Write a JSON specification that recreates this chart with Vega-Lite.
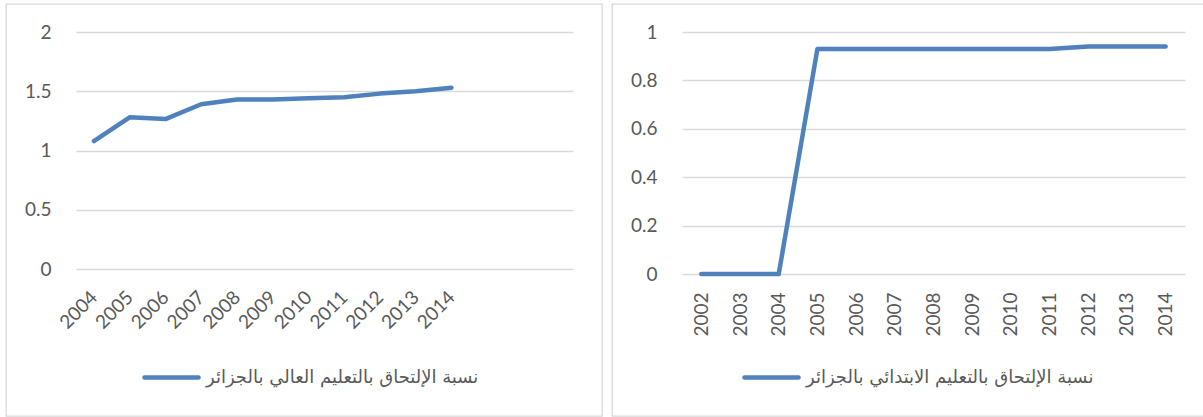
{
  "$schema": "https://vega.github.io/schema/vega-lite/v6.json",
  "background": "white",
  "padding": {"left": 5, "top": 3, "right": 0, "bottom": 0},
  "spacing": 8,
  "resolve": {"scale": {"color": "independent"}, "legend": {"color": "independent"}},
  "config": {
    "view": {"stroke": "#d9d9d9", "strokeWidth": 1.3},
    "axis": {"labelFont": "Lato", "labelFontSize": 19, "labelColor": "#595959", "domain": false, "ticks": false, "title": null, "labelOverlap": false},
    "legend": {"labelFont": "DejaVu Sans", "labelFontSize": 18, "labelColor": "#595959", "labelLimit": 0, "symbolType": "stroke", "symbolSize": 2916, "symbolStrokeWidth": 4.5, "padding": 0, "labelOffset": 5, "title": null}
  },
  "hconcat": [
    {
      "width": 596,
      "height": 412,
      "data": {"values": [
        {"year": 2004, "value": 1.08, "series": "نسبة الإلتحاق بالتعليم العالي بالجزائر"},
        {"year": 2005, "value": 1.28, "series": "نسبة الإلتحاق بالتعليم العالي بالجزائر"},
        {"year": 2006, "value": 1.265, "series": "نسبة الإلتحاق بالتعليم العالي بالجزائر"},
        {"year": 2007, "value": 1.39, "series": "نسبة الإلتحاق بالتعليم العالي بالجزائر"},
        {"year": 2008, "value": 1.43, "series": "نسبة الإلتحاق بالتعليم العالي بالجزائر"},
        {"year": 2009, "value": 1.43, "series": "نسبة الإلتحاق بالتعليم العالي بالجزائر"},
        {"year": 2010, "value": 1.44, "series": "نسبة الإلتحاق بالتعليم العالي بالجزائر"},
        {"year": 2011, "value": 1.45, "series": "نسبة الإلتحاق بالتعليم العالي بالجزائر"},
        {"year": 2012, "value": 1.48, "series": "نسبة الإلتحاق بالتعليم العالي بالجزائر"},
        {"year": 2013, "value": 1.5, "series": "نسبة الإلتحاق بالتعليم العالي بالجزائر"},
        {"year": 2014, "value": 1.53, "series": "نسبة الإلتحاق بالتعليم العالي بالجزائر"}
      ]},
      "mark": {"type": "line", "strokeWidth": 4.5, "strokeCap": "round", "strokeJoin": "round"},
      "encoding": {
        "x": {"field": "year", "type": "quantitative",
          "scale": {"domain": [2003.5, 2017.4], "range": [70, 567], "nice": false, "zero": false},
          "axis": {"values": [2004, 2005, 2006, 2007, 2008, 2009, 2010, 2011, 2012, 2013, 2014], "format": "d", "labelAngle": -45, "labelAlign": "right", "labelBaseline": "middle", "offset": -124, "grid": false, "labelPadding": 2}},
        "y": {"field": "value", "type": "quantitative",
          "scale": {"domain": [0, 2], "range": [265, 28], "nice": false},
          "axis": {"values": [0, 0.5, 1, 1.5, 2], "format": "~g", "offset": -45, "grid": true, "gridColor": "#d9d9d9", "gridWidth": 1.3, "labelPadding": 0}},
        "color": {"field": "series", "type": "nominal", "scale": {"range": ["#4f81bd"]},
          "legend": {"orient": "none", "legendX": 136, "legendY": 344, "encode": {"symbols": {"update": {"strokeCap": {"value": "round"}}}}}}
      }
    },
    {
      "width": 593,
      "height": 412,
      "data": {"values": [
        {"year": 2002, "value": 0, "series": "نسبة الإلتحاق بالتعليم الابتدائي بالجزائر"},
        {"year": 2003, "value": 0, "series": "نسبة الإلتحاق بالتعليم الابتدائي بالجزائر"},
        {"year": 2004, "value": 0, "series": "نسبة الإلتحاق بالتعليم الابتدائي بالجزائر"},
        {"year": 2005, "value": 0.93, "series": "نسبة الإلتحاق بالتعليم الابتدائي بالجزائر"},
        {"year": 2006, "value": 0.93, "series": "نسبة الإلتحاق بالتعليم الابتدائي بالجزائر"},
        {"year": 2007, "value": 0.93, "series": "نسبة الإلتحاق بالتعليم الابتدائي بالجزائر"},
        {"year": 2008, "value": 0.93, "series": "نسبة الإلتحاق بالتعليم الابتدائي بالجزائر"},
        {"year": 2009, "value": 0.93, "series": "نسبة الإلتحاق بالتعليم الابتدائي بالجزائر"},
        {"year": 2010, "value": 0.93, "series": "نسبة الإلتحاق بالتعليم الابتدائي بالجزائر"},
        {"year": 2011, "value": 0.93, "series": "نسبة الإلتحاق بالتعليم الابتدائي بالجزائر"},
        {"year": 2012, "value": 0.94, "series": "نسبة الإلتحاق بالتعليم الابتدائي بالجزائر"},
        {"year": 2013, "value": 0.94, "series": "نسبة الإلتحاق بالتعليم الابتدائي بالجزائر"},
        {"year": 2014, "value": 0.94, "series": "نسبة الإلتحاق بالتعليم الابتدائي بالجزائر"}
      ]},
      "mark": {"type": "line", "strokeWidth": 4.5, "strokeCap": "round", "strokeJoin": "round"},
      "encoding": {
        "x": {"field": "year", "type": "quantitative",
          "scale": {"domain": [2001.5, 2014.5], "range": [70, 573], "nice": false, "zero": false},
          "axis": {"values": [2002, 2003, 2004, 2005, 2006, 2007, 2008, 2009, 2010, 2011, 2012, 2013, 2014], "format": "d", "labelAngle": -90, "offset": -126, "grid": false, "labelPadding": 2}},
        "y": {"field": "value", "type": "quantitative",
          "scale": {"domain": [0, 1], "range": [270, 28], "nice": false},
          "axis": {"values": [0, 0.2, 0.4, 0.6, 0.8, 1], "format": "~g", "offset": -45, "grid": true, "gridColor": "#d9d9d9", "gridWidth": 1.3, "labelPadding": 0}},
        "color": {"field": "series", "type": "nominal", "scale": {"range": ["#4f81bd"]},
          "legend": {"orient": "none", "legendX": 130, "legendY": 344, "encode": {"symbols": {"update": {"strokeCap": {"value": "round"}}}}}}
      }
    }
  ]
}
